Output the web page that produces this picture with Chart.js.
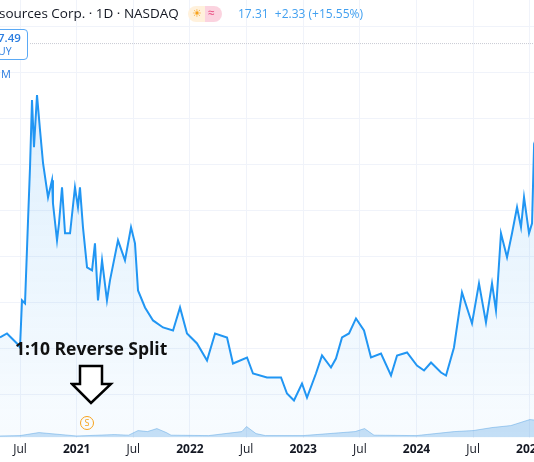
<!DOCTYPE html>
<html><head><meta charset="utf-8">
<script src="https://cdn.jsdelivr.net/npm/chart.js@4"></script>
<style>
html,body{margin:0;padding:0;background:#fff;overflow:hidden;font-family:"Open Sans","Noto Sans",sans-serif}
#wrap{position:relative;width:534px;height:462px;overflow:hidden}
canvas{position:absolute;left:0;top:0}
.t{position:absolute;white-space:nowrap}
</style></head><body>
<div id="wrap"><canvas id="c" width="564" height="462"></canvas>
<div class="t" style="left:-1px;top:4px;font-size:13.5px;color:#131722">sources Corp. · 1D · NASDAQ</div>
<div class="t" style="left:188px;top:6px;width:34px;height:16px;border-radius:8px;background:linear-gradient(90deg,#fff1dc 50%,#fbd3df 50%)"></div>
<div class="t" style="left:192px;top:5px;font-size:11px;color:#f7a21b">☀</div>
<div class="t" style="left:208px;top:4px;font-size:12px;color:#e8467c">≈</div>
<div class="t" style="left:238px;top:5px;font-size:12px;color:#42a0f0">17.31&nbsp; +2.33 (+15.55%)</div>
<div class="t" style="left:-8px;top:29px;width:34px;height:29px;border:1px solid #5aa9f5;border-radius:4px;background:#fff"></div>
<div class="t" style="left:-2px;top:30px;font-size:11.5px;color:#2b7de0;font-weight:600">7.49</div>
<div class="t" style="left:-2px;top:44px;font-size:10.5px;color:#2b7de0">UY</div>
<div class="t" style="left:1px;top:66px;font-size:11px;color:#2b7de0">M</div>
<div class="t" style="left:15px;top:336px;font-size:17.5px;font-weight:bold;color:#111">1:10 Reverse Split</div>
<svg class="t" style="left:70px;top:364px" width="44" height="44"><path d="M10 2 H32 V20 H41 L21 39 L2 20 H10 Z" fill="#fff" stroke="#000" stroke-width="2.5"/></svg>
<div class="t" style="left:80px;top:416px;width:14px;height:14px;border:1.5px solid #f7a21b;border-radius:50%;box-sizing:border-box;font-size:9px;color:#f7a21b;text-align:center;line-height:11px">S</div>
</div>
<script>
const months=[3.88,4.62,5.68,6.0,6.21,6.53,6.85,7.06,7.27,7.48,7.8,8.12,8.44,8.97,9.39,9.49,9.92,10.13,10.45,10.77,11.3,11.82,12.14,12.35,12.67,13.1,13.63,13.94,14.26,14.69,15.21,15.53,16.38,17.12,17.76,18.18,18.5,19.24,20.09,21.15,22.21,22.95,23.69,24.75,25.81,26.66,27.93,28.56,30.05,30.68,32.16,32.9,33.65,34.28,35.02,35.87,36.4,37.35,37.99,38.94,39.47,40.11,40.85,41.59,42.44,43.18,44.24,45.3,45.94,47.0,48.05,48.8,49.54,50.6,51.13,51.97,52.82,53.88,54.62,55.36,56.0,56.42,56.95,57.59,58.12,58.65,59.07,59.39,59.92,60.24,60.45,61.0];
const price=[5.0,5.2,4.7,4.5,6.85,6.7,10.85,13.5,16.85,14.5,17.1,15.35,13.7,12.0,12.85,11.7,9.85,10.7,12.5,10.2,10.2,12.5,11.5,12.5,10.5,8.5,8.35,9.7,6.85,8.85,6.85,7.85,9.85,8.85,10.5,9.7,7.35,6.5,5.85,5.5,5.35,6.5,5.2,4.7,3.85,5.2,5.0,3.7,4.0,3.2,3.0,3.0,3.0,2.2,1.85,2.7,2.0,3.2,4.1,3.5,3.95,5.0,5.2,5.95,5.35,4.0,4.2,3.1,4.1,4.25,3.6,3.35,3.75,3.25,3.1,4.5,7.25,5.7,7.7,5.75,7.7,6.35,10.2,9.0,10.2,11.5,10.5,12.0,10.2,10.7,14.5,13.7,14.0];
const volMonths=[3.88,6,8,12,16,17.5,18.5,19.5,20.5,21.5,22,26,29.5,30,31,32,36,41.5,42.5,43.5,48,52,54,56,58,59,60,61];
const volume=[0.08,0.1,0.25,0.08,0.15,0.12,0.35,0.3,0.45,0.25,0.12,0.1,0.3,0.55,0.2,0.1,0.1,0.3,0.45,0.12,0.1,0.3,0.35,0.5,0.6,0.75,0.9,0.85];
const tickMonths=[6,12,18,24,30,36,42,48,54,60];
const tickLabels=['Jul','2021','Jul','2022','Jul','2023','Jul','2024','Jul','2025'];
const gridLevels=[2.15,4.45,6.75,9.05,11.35,13.65,15.95,18.25,20.55];
const buyLevel=19.7;
const ctx=document.getElementById('c');
const dotted={id:'dotted',afterDraw(ch){const c=ch.ctx,y=ch.scales.y.getPixelForValue(buyLevel);c.save();c.strokeStyle='#c9ccd4';c.lineWidth=1;c.setLineDash([1,1]);c.beginPath();c.moveTo(30,y+0.5);c.lineTo(564,y+0.5);c.stroke();c.restore();}};
new Chart(ctx,{type:'line',data:{datasets:[
{data:months.map((m,i)=>({x:m,y:price[i]})),borderColor:'#2196f3',borderWidth:2,pointRadius:0,tension:0,fill:'origin',
 backgroundColor:(c)=>{const a=c.chart.chartArea;if(!a)return 'rgba(33,150,243,0.1)';const g=c.chart.ctx.createLinearGradient(0,a.top,0,a.bottom);g.addColorStop(0,'rgba(33,150,243,0.18)');g.addColorStop(1,'rgba(33,150,243,0.03)');return g;}},
{data:volMonths.map((m,i)=>({x:m,y:volume[i]})),borderColor:'rgba(100,170,230,0.5)',borderWidth:1,pointRadius:0,fill:'origin',backgroundColor:'rgba(100,170,230,0.35)'}
]},options:{responsive:false,animation:false,layout:{padding:0},
plugins:{legend:{display:false},tooltip:{enabled:false}},
scales:{x:{type:'linear',min:3.88,max:3.88+564/9.44,afterBuildTicks(s){s.ticks=tickMonths.map(v=>({value:v}));},
 ticks:{autoSkip:false,maxRotation:0,padding:5,color:'#131722',font:(c)=>({family:'Open Sans',size:12,weight:(c.index%2)?'bold':'normal'}),callback:(v,i)=>tickLabels[i]},
 grid:{color:'#f0f3fa',drawTicks:false},border:{display:false}},
y:{display:true,min:0,max:21.85,afterBuildTicks(s){s.ticks=gridLevels.map(v=>({value:v}));},ticks:{display:false},grid:{color:'#f0f3fa',drawTicks:false},border:{display:false}}}},
plugins:[dotted]});
</script></body></html>
